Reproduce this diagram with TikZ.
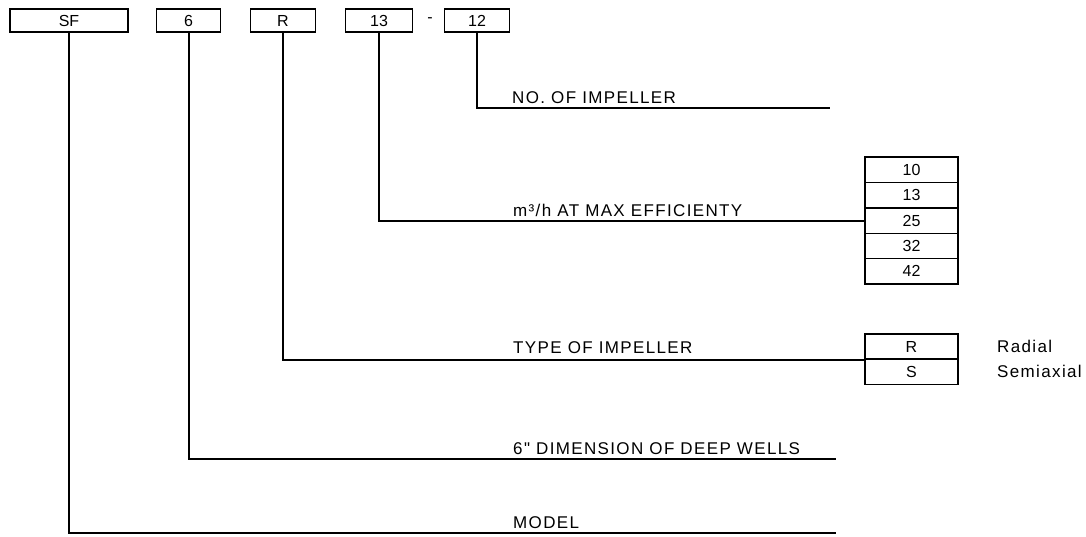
\documentclass[tikz,border=0pt]{standalone}
\usepackage{fontspec}
\setmainfont{Liberation Sans}
\newfontfamily\lblfont{Liberation Sans}[LetterSpace=8]
\begin{document}
\begin{tikzpicture}[x=1pt,y=-1pt,
  cell/.style={draw,line width=1.4pt,minimum height=23pt,inner sep=0pt,font=\fontsize{16}{16}\selectfont},
  tcell/.style={draw,line width=1.4pt,minimum width=93pt,minimum height=25.4pt,inner sep=0pt,font=\fontsize{16}{16}\selectfont},
  lbl/.style={anchor=base west,inner sep=0pt,font=\fontsize{17}{17}\lblfont},
  conn/.style={line width=2pt}]
\useasboundingbox (0,0) rectangle (1086,536);
% top code boxes
\node[cell,minimum width=118pt] (bSF) at (69,20.5) {SF};
\node[cell,minimum width=64pt] (b6) at (188.5,20.5) {6};
\node[cell,minimum width=65pt] (bR) at (283,20.5) {R};
\node[cell,minimum width=67pt] (b13) at (379,20.5) {13};
\node[inner sep=0pt,font=\fontsize{16}{16}\selectfont] (dash) at (430,20.5) {-};
\node[cell,minimum width=65pt] (b12) at (477,20.5) {12};
% table of flows
\node[tcell] (t10) at (911.5,169.7) {10};
\node[tcell] (t13) at (911.5,195.1) {13};
\node[tcell] (t25) at (911.5,220.5) {25};
\node[tcell] (t32) at (911.5,245.9) {32};
\node[tcell] (t42) at (911.5,271.3) {42};
% impeller type table
\node[tcell] (tR) at (911.5,346.5) {R};
\node[tcell] (tS) at (911.5,371.5) {S};
\node[lbl] (radial) at (997,352.5) {Radial};
\node[lbl] (semi) at (997,377.5) {Semiaxial};
% end coordinates
\coordinate (e12) at (830,108);
\coordinate (e6) at (836,459);
\coordinate (eSF) at (836,533);
% connectors
\draw[conn] (b12.south) |- (e12);
\draw[conn] (b13.south) |- (t25.west);
\draw[conn] (bR.south) |- (tR.south west);
\draw[conn] (b6.south) |- (e6);
\draw[conn] (bSF.south) |- (eSF);
% labels
\node[lbl] (l12) at (512,103) {NO. OF IMPELLER};
\node[lbl] (l13) at (513,216) {m³/h AT MAX EFFICIENTY};
\node[lbl] (lR) at (513,353) {TYPE OF IMPELLER};
\node[lbl] (l6) at (513,454) {6" DIMENSION OF DEEP WELLS};
\node[lbl] (lSF) at (513,528) {MODEL};
\end{tikzpicture}
\end{document}
